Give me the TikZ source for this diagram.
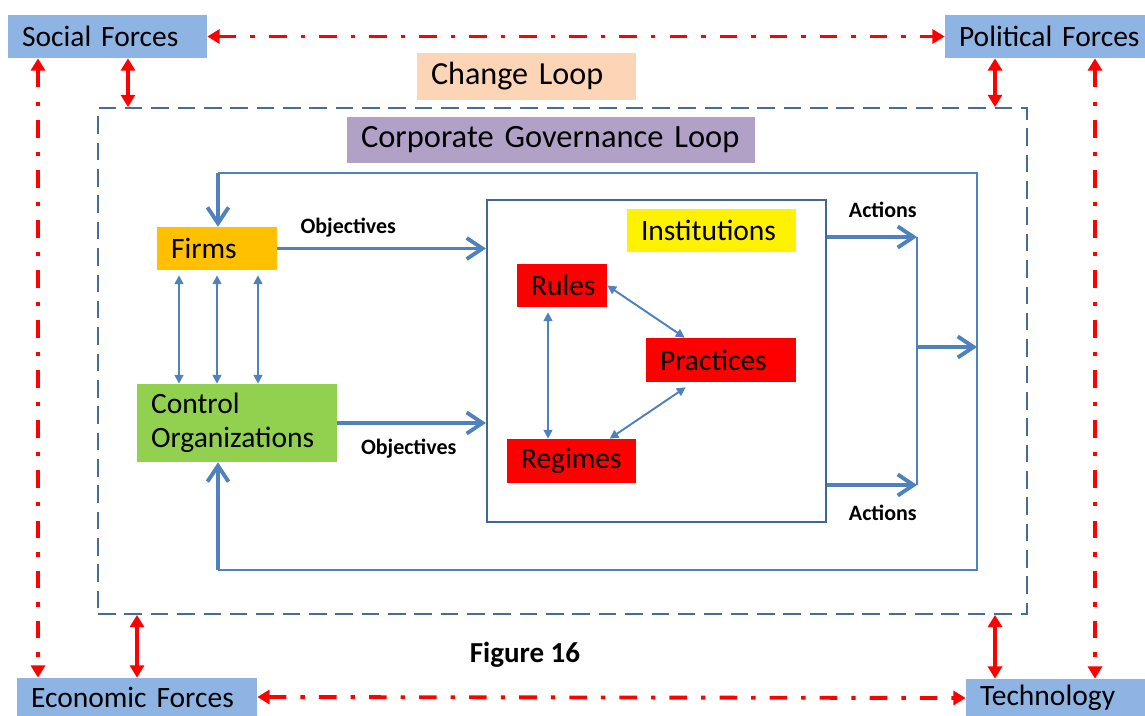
\documentclass[tikz,border=0pt]{standalone}
\usepackage{fontspec}
\setmainfont{Carlito}
\usetikzlibrary{positioning}
\usetikzlibrary{calc}
\usetikzlibrary{arrows.meta}

\definecolor{forceblue}{HTML}{8EB4E3}
\definecolor{changepeach}{HTML}{FBD5B5}
\definecolor{govlilac}{HTML}{B2A1C7}
\definecolor{firmorange}{HTML}{FFC000}
\definecolor{ctrlgreen}{HTML}{92D050}
\definecolor{linkblue}{HTML}{4F81BD}
\definecolor{frameblue}{HTML}{4A6B94}

\begin{document}
\begin{tikzpicture}[
    x=0.02cm, y=-0.02cm,
    tag/.style={rectangle, fill=#1, inner xsep=0.28cm, inner ysep=0pt, align=left,
        font=\fontsize{16.8}{19.5}\selectfont, text=black},
    force/.style={tag=forceblue, minimum height=0.86cm},
    redlink/.style={red, line width=2.2pt,
        {Triangle[length=7pt,width=8pt]}-{Triangle[length=7pt,width=8pt]}},
    reddash/.style={redlink, dash pattern=on 10pt off 8pt on 2.5pt off 8pt},
    bluethin/.style={linkblue, line width=1.1pt,
        {Triangle[length=5pt,width=5pt]}-{Triangle[length=5pt,width=5pt]}},
    bluethick/.style={linkblue, line width=2.2pt,
        -{Straight Barb[length=9pt,width=12pt]}},
    smalllbl/.style={font=\fontsize{12.5}{14}\selectfont\bfseries, text=black}
]

    \useasboundingbox (0,0) rectangle (1145,716);

    % Outer frame
    \node[
        draw=frameblue,
        line width=1.1pt,
        dash pattern=on 10pt off 5pt,
        minimum width=18.58cm,
        minimum height=10.12cm,
        inner sep=0pt
    ] (outer) at (562.5,361) {};

    % Forces
    \node[force, text width=3.42cm] (social) at (107.5,36.5) {Social Forces};
    \node[force, text width=3.8cm] (political) at (1054,36.5) {Political Forces};
    \node[force, text width=4.24cm, minimum height=0.76cm] (economic) at (137,697) {Economic Forces};
    \node[force, text width=3.3cm, minimum height=0.76cm] (technology) at (1062.5,698) {Technology};

    % Loop titles
    \node[tag=changepeach, text width=3.82cm, minimum height=0.94cm,
        font=\fontsize{18.3}{21}\selectfont] (change) at (526.5,76.5) {Change Loop};
    \node[tag=govlilac, text width=7.6cm, minimum height=0.92cm,
        font=\fontsize{18.5}{21}\selectfont] (govloop) at (551,140) {Corporate Governance Loop};

    % Actors
    \node[tag=firmorange, text width=1.84cm, minimum height=0.86cm] (firms) at (217,248.5) {Firms};
    \node[tag=ctrlgreen, text width=3.44cm, minimum height=1.56cm] (control) at (237,423) {Control\\Organizations};

    % Institutions
    \node[
        draw=linkblue!80!black,
        line width=1.2pt,
        minimum width=6.78cm,
        minimum height=6.44cm,
        inner sep=0pt
    ] (instbox) at (656.5,361) {};
    \node[tag=yellow, text width=2.82cm, minimum height=0.86cm] (institutions) at (711.5,230.5) {Institutions};
    \node[tag=red, text width=1.24cm, minimum height=0.86cm] (rules) at (562,285.5) {Rules};
    \node[tag=red, text width=2.44cm, minimum height=0.88cm] (practices) at (721,360) {Practices};
    \node[tag=red, text width=2.02cm, minimum height=0.88cm] (regimes) at (571.5,461) {Regimes};

    \node[font=\fontsize{16.5}{18}\selectfont\bfseries] (figcap) at (525,655) {Figure 16};

    % Change loop arrows
    \draw[reddash] (social.east) -- (political.west);
    \draw[reddash] (economic.east) -- (technology.west);
    \draw[reddash] ([xshift=-1.39cm]social.south) -- ([xshift=-1.39cm]social.south |- economic.north);
    \draw[reddash] ([xshift=0.82cm]political.south) -- ([xshift=0.82cm]political.south |- technology.north);

    \draw[redlink] ([xshift=0.41cm]social.south) -- ([xshift=0.41cm]social.south |- outer.north);
    \draw[redlink] ([xshift=-1.18cm]political.south) -- ([xshift=-1.18cm]political.south |- outer.north);
    \draw[redlink] (economic.north) -- (economic.north |- outer.south);
    \draw[redlink] ([xshift=-1.35cm]technology.north) -- ([xshift=-1.35cm]technology.north |- outer.south);

    % Governance loop
    \coordinate (looptl) at (218,173);
    \coordinate (looptr) at (977,173);
    \coordinate (loopbr) at (977,570);
    \coordinate (loopbl) at (218,570);

    \draw[linkblue, line width=1.2pt] (looptl) -- (looptr) -- (loopbr) -- (loopbl);
    \draw[bluethick] (looptl) -- (looptl |- firms.north);
    \draw[bluethick] (loopbl) -- (loopbl |- control.south);

    \foreach \dx in {-0.76,0,0.82}
        \draw[bluethin] ([xshift=\dx cm, yshift=-0.1cm]firms.south) -- ([xshift=\dx cm]firms.south |- control.north);

    % Objectives
    \draw[bluethick] (firms.east) -- (firms.east -| instbox.west)
        node[pos=0.34, yshift=0.41cm, smalllbl] (objfirms) {Objectives};
    \draw[bluethick] (control.east) -- (control.east -| instbox.west)
        node[pos=0.48, yshift=-0.52cm, smalllbl] (objctrl) {Objectives};

    % Actions
    \coordinate (acttop) at (917,237);
    \coordinate (actbot) at (917,485);
    \coordinate (actmid) at (917,347);

    \draw[bluethick] (instbox.east |- acttop) -- (acttop)
        node[pos=0.62, yshift=0.54cm, smalllbl] (acttoplbl) {Actions};
    \draw[bluethick] (instbox.east |- actbot) -- (actbot)
        node[pos=0.62, yshift=-0.56cm, smalllbl] (actbotlbl) {Actions};
    \draw[linkblue, line width=1.2pt] (acttop) -- (actbot);
    \draw[bluethick] (actmid) -- (actmid -| looptr);

    % Institution links
    \draw[bluethin] ([xshift=-0.28cm, yshift=-0.1cm]rules.south) -- ([xshift=-0.28cm]rules.south |- regimes.north);
    \draw[bluethin] (rules.east) -- ([xshift=0.78cm]practices.north west);
    \draw[bluethin] ([xshift=2.06cm]regimes.north west) -- ([xshift=0.8cm, yshift=-0.1cm]practices.south west);

\end{tikzpicture}
\end{document}
